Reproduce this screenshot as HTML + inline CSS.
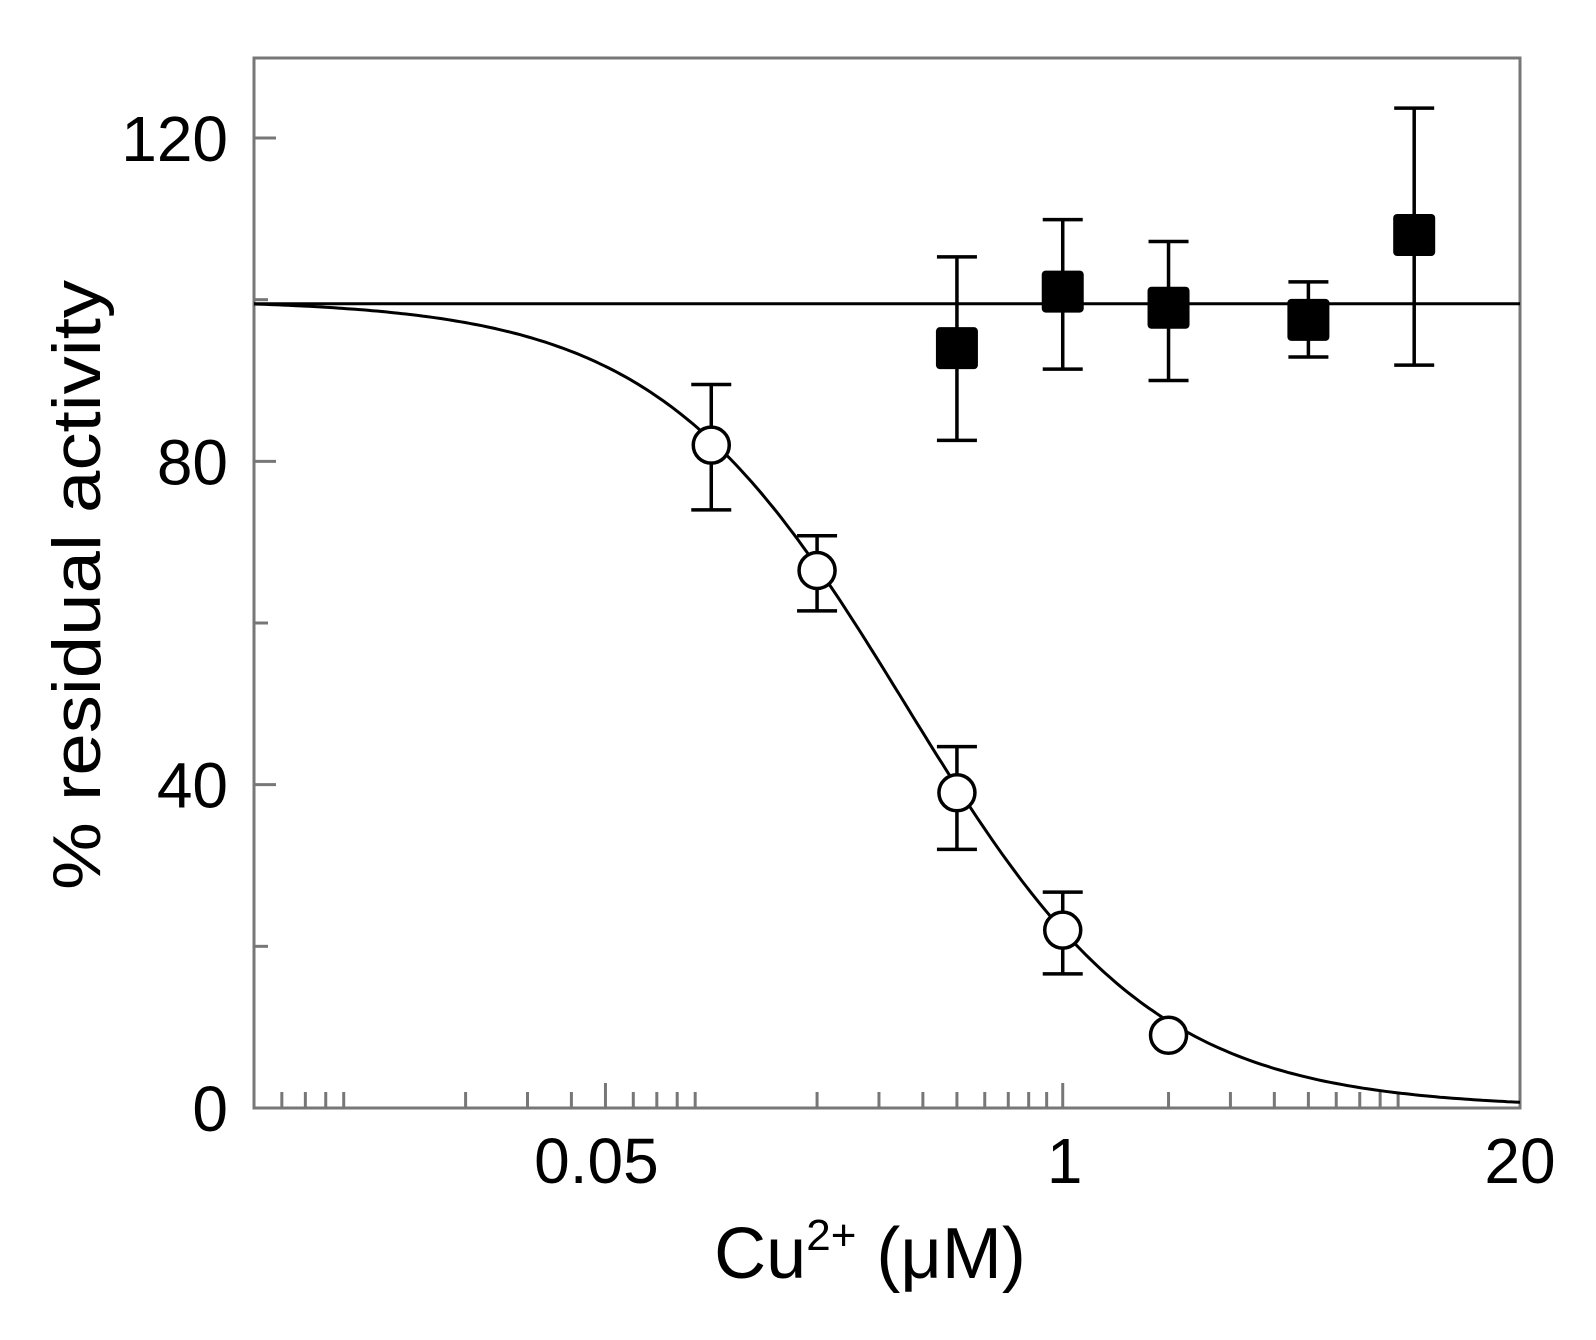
<!DOCTYPE html>
<html><head><meta charset="utf-8"><style>
html,body{margin:0;padding:0;background:#fff;}
svg{display:block;font-family:"Liberation Sans",Arial,sans-serif;}
</style></head><body>
<svg id="chart" width="1596" height="1340" viewBox="0 0 1596 1340" xmlns="http://www.w3.org/2000/svg">
<rect x="0" y="0" width="1596" height="1340" fill="#fff"/>
<g id="plot"></g>
</svg>
<script>
const circleX = [0.1, 0.2, 0.5, 1, 2];
const circleY = [82, 66.5, 39, 22, 9];
const circleHi = [89.5, 70.8, 44.7, 26.7, 9];
const circleLo = [74, 61.5, 32, 16.6, 9];
const squareX = [0.5, 1, 2, 5, 10];
const squareY = [94, 101, 99, 97.5, 108];
const squareHi = [105.3, 109.9, 107.2, 102.2, 123.7];
const squareLo = [82.6, 91.4, 90, 92.9, 91.9];
const fitIC50 = [0.356];
const fitHill = [1.227];
const controlLevel = [99.5];
const yTicks = [0, 40, 80, 120];
const yMinorTicks = [20, 60, 100];
const xTickLabels = ["0.05", "1", "20"];
const xTickValues = [0.05, 1, 20];

const NS = "http://www.w3.org/2000/svg";
const X0 = 254, X1 = 1520, Y0 = 1108, Y1 = 138;
const xmin = 0.005, xmax = 20;
function sx(v){ return X0 + (Math.log10(v) - Math.log10(xmin)) / (Math.log10(xmax) - Math.log10(xmin)) * (X1 - X0); }
function sy(v){ return Y0 + (Y1 - Y0) * v / 120; }
const g = document.getElementById('plot');
function mk(tag, attrs, parent){
  const e = document.createElementNS(NS, tag);
  for (const k in attrs) e.setAttribute(k, attrs[k]);
  (parent || g).appendChild(e);
  return e;
}

// frame
const frame = mk('rect', {x: X0, y: 58, width: X1 - X0, height: Y0 - 58, fill: 'none', stroke: '#777', 'stroke-width': 3});



// y ticks
yTicks.forEach(v => {
  const t = mk('line', {x1: X0, x2: X0 + 22, y1: sy(v), y2: sy(v), stroke: '#777', 'stroke-width': 3});
  
  
  const l = mk('text', {x: 228, y: sy(v) + 23, 'text-anchor': 'end', 'font-size': 64, fill: '#000'});
  l.textContent = String(v);
  
  
});
yMinorTicks.forEach(v => {
  const t = mk('line', {x1: X0, x2: X0 + 14, y1: sy(v), y2: sy(v), stroke: '#777', 'stroke-width': 3});
  
  
});

// x minor ticks
[0.001, 0.01, 0.1, 1].forEach(dec => {
  for (let m = 2; m <= 9; m++) {
    const v = dec * m;
    if (v <= xmin || v >= xmax || Math.abs(v - 0.05) < 1e-9) continue;
    const t = mk('line', {x1: sx(v), x2: sx(v), y1: Y0, y2: Y0 - 16, stroke: '#777', 'stroke-width': 3});
    
    
  }
});
xTickValues.forEach((v, i) => {
  const t = mk('line', {x1: sx(v), x2: sx(v), y1: Y0, y2: Y0 - 25, stroke: '#777', 'stroke-width': 3});
  
  
  const l = mk('text', {x: sx(v) - (i === 0 ? 9 : (i === 1 ? -2 : 0)), y: 1183, 'text-anchor': 'middle', 'font-size': 64, fill: '#000'});
  l.textContent = xTickLabels[i];
  
  
});

// axis titles
const xt = mk('text', {x: 870, y: 1278, 'text-anchor': 'middle', 'font-size': 72, fill: '#000'});
xt.innerHTML = 'Cu<tspan font-size="44" dy="-28">2+</tspan><tspan dy="28"> (μM)</tspan>';


const yt = mk('text', {x: 0, y: 0, 'text-anchor': 'middle', 'font-size': 68, fill: '#000', transform: 'translate(100,585) rotate(-90)', textLength: 610, lengthAdjust: 'spacingAndGlyphs'});
yt.textContent = '% residual activity';



// control line
const cl = mk('line', {x1: X0, x2: X1, y1: sy(controlLevel[0]), y2: sy(controlLevel[0]), stroke: '#000', 'stroke-width': 3});



// fit curve
let d = '';
for (let i = 0; i <= 300; i++) {
  const lv = Math.log10(xmin) + (Math.log10(xmax) - Math.log10(xmin)) * i / 300;
  const v = Math.pow(10, lv);
  const y = 100 / (1 + Math.pow(v / fitIC50[0], fitHill[0]));
  d += (i ? 'L' : 'M') + sx(v).toFixed(1) + ',' + sy(y).toFixed(1);
}
const fc = mk('path', {d: d, fill: 'none', stroke: '#000', 'stroke-width': 3});



function errbar(x, hi, lo, name){
  const px = sx(x);
  const e = mk('path', {d: `M${px},${sy(hi)}V${sy(lo)}M${px-20},${sy(hi)}H${px+20}M${px-20},${sy(lo)}H${px+20}`, stroke: '#000', 'stroke-width': 3.5, fill: 'none'});
  
  
}
squareX.forEach((x, i) => {
  errbar(x, squareHi[i], squareLo[i], 'square-error-bar');
  const r = mk('rect', {x: sx(x) - 21, y: sy(squareY[i]) - 21, width: 42, height: 42, rx: 4, fill: '#000'});
  
  
});
circleX.forEach((x, i) => {
  if (circleHi[i] !== circleLo[i]) errbar(x, circleHi[i], circleLo[i], 'circle-error-bar');
  const c = mk('circle', {cx: sx(x), cy: sy(circleY[i]), r: 18, fill: '#fff', stroke: '#000', 'stroke-width': 3.5});
  
  
});
</script>
</body></html>
